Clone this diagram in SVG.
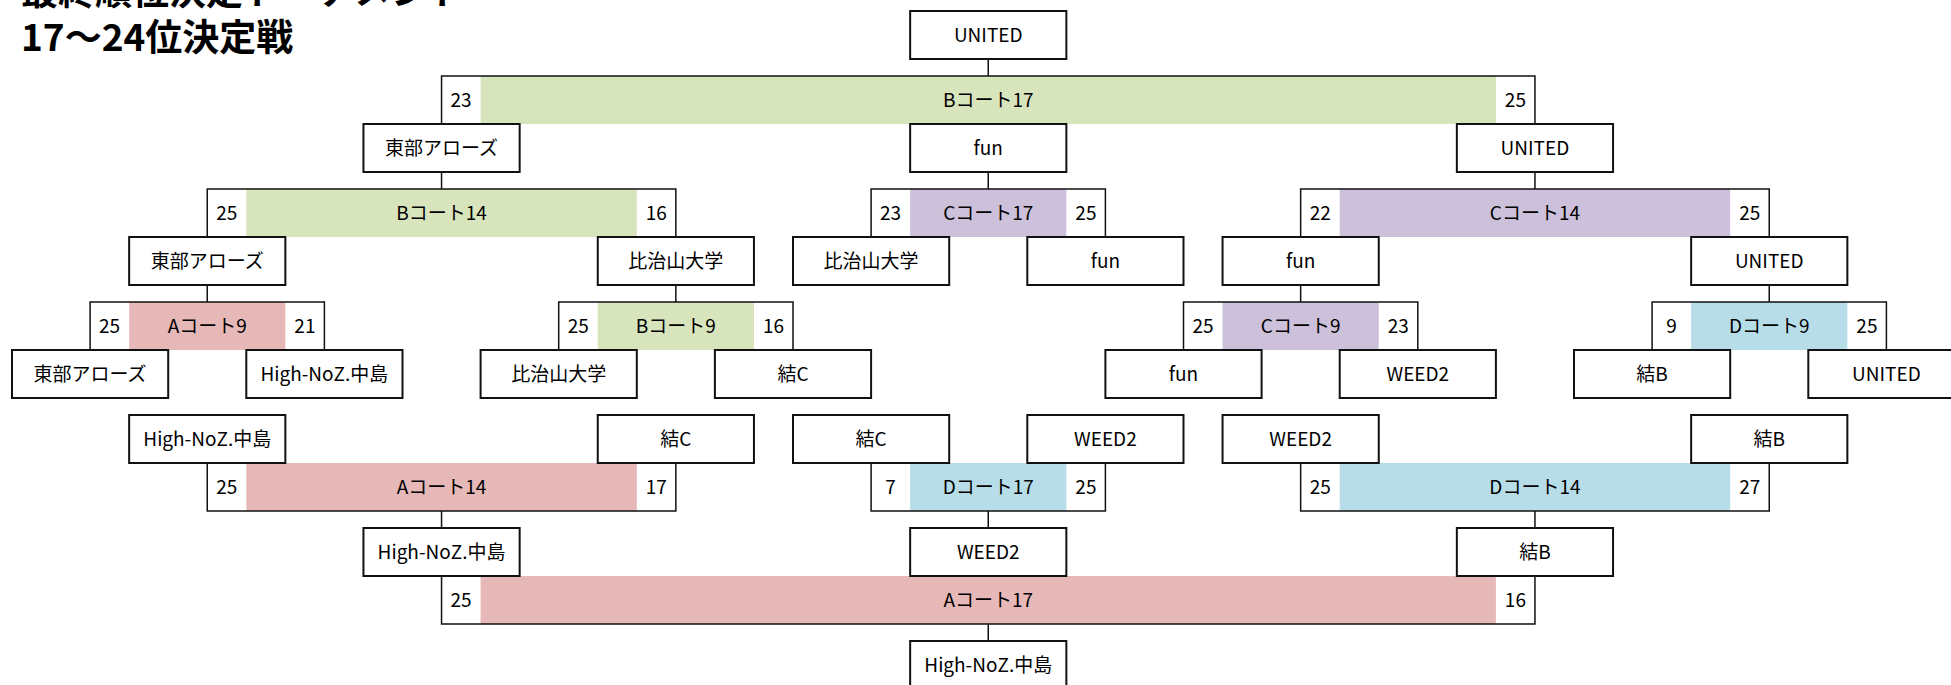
<svg xmlns="http://www.w3.org/2000/svg" width="1951" height="685" viewBox="0 0 1951 685">
<style>
.bg{fill:#ffffff}
.box{fill:#ffffff;stroke:#111111;stroke-width:2}
.t{font-family:"Noto Sans CJK JP","Liberation Sans",sans-serif;font-size:19px;fill:#000000;text-anchor:middle}
.title{font-family:"Noto Sans CJK JP","Liberation Sans",sans-serif;font-size:37px;font-weight:700;fill:#000000}
.ln{fill:none;stroke:#111111;stroke-width:1.5}
.g{fill:#D8E4BC}.p{fill:#CCC0DA}.r{fill:#E6B8B7}.b{fill:#B7DEE8}
</style>
<rect class="bg" x="0" y="0" width="1951" height="685"/>
<g id="title">
<text class="title" x="21" y="5">最終順位決定トーナメント</text>
<text class="title" x="21" y="51">17～24位決定戦</text>
</g>
<g id="matches">
<g id="m-B17"><rect class="g" x="480.6" y="76" width="1015.3" height="48"/><text class="t" x="461.1" y="107">23</text><text class="t" x="988.25" y="107">Bコート17</text><text class="t" x="1515.4" y="107">25</text></g>
<g id="m-B14"><rect class="g" x="246.3" y="189" width="390.5" height="48"/><text class="t" x="226.8" y="220">25</text><text class="t" x="441.55" y="220">Bコート14</text><text class="t" x="656.3" y="220">16</text></g>
<g id="m-C17"><rect class="p" x="910.15" y="189" width="156.2" height="48"/><text class="t" x="890.6" y="220">23</text><text class="t" x="988.25" y="220">Cコート17</text><text class="t" x="1085.9" y="220">25</text></g>
<g id="m-C14"><rect class="p" x="1339.7" y="189" width="390.5" height="48"/><text class="t" x="1320.2" y="220">22</text><text class="t" x="1534.95" y="220">Cコート14</text><text class="t" x="1749.7" y="220">25</text></g>
<g id="m-A9"><rect class="r" x="129.15" y="302" width="156.2" height="48"/><text class="t" x="109.6" y="333">25</text><text class="t" x="207.25" y="333">Aコート9</text><text class="t" x="304.9" y="333">21</text></g>
<g id="m-B9"><rect class="g" x="597.75" y="302" width="156.2" height="48"/><text class="t" x="578.2" y="333">25</text><text class="t" x="675.85" y="333">Bコート9</text><text class="t" x="773.5" y="333">16</text></g>
<g id="m-C9"><rect class="p" x="1222.55" y="302" width="156.2" height="48"/><text class="t" x="1203" y="333">25</text><text class="t" x="1300.65" y="333">Cコート9</text><text class="t" x="1398.3" y="333">23</text></g>
<g id="m-D9"><rect class="b" x="1691.15" y="302" width="156.2" height="48"/><text class="t" x="1671.6" y="333">9</text><text class="t" x="1769.25" y="333">Dコート9</text><text class="t" x="1866.9" y="333">25</text></g>
<g id="m-A14"><rect class="r" x="246.3" y="463" width="390.5" height="48"/><text class="t" x="226.8" y="494">25</text><text class="t" x="441.55" y="494">Aコート14</text><text class="t" x="656.3" y="494">17</text></g>
<g id="m-D17"><rect class="b" x="910.15" y="463" width="156.2" height="48"/><text class="t" x="890.6" y="494">7</text><text class="t" x="988.25" y="494">Dコート17</text><text class="t" x="1085.9" y="494">25</text></g>
<g id="m-D14"><rect class="b" x="1339.7" y="463" width="390.5" height="48"/><text class="t" x="1320.2" y="494">25</text><text class="t" x="1534.95" y="494">Dコート14</text><text class="t" x="1749.7" y="494">27</text></g>
<g id="m-A17"><rect class="r" x="480.6" y="576" width="1015.3" height="48"/><text class="t" x="461.1" y="607">25</text><text class="t" x="988.25" y="607">Aコート17</text><text class="t" x="1515.4" y="607">16</text></g>
</g>
<g id="connectors">
<path class="ln" d="M441.55 124V76H1534.95V124M988.25 76V59"/>
<path class="ln" d="M207.25 237V189H675.85V237M441.55 189V172"/>
<path class="ln" d="M871.1 237V189H1105.4V237M988.25 189V172"/>
<path class="ln" d="M1300.65 237V189H1769.25V237M1534.95 189V172"/>
<path class="ln" d="M90.1 350V302H324.4V350M207.25 302V285"/>
<path class="ln" d="M558.7 350V302H793V350M675.85 302V285"/>
<path class="ln" d="M1183.5 350V302H1417.8V350M1300.65 302V285"/>
<path class="ln" d="M1652.1 350V302H1886.4V350M1769.25 302V285"/>
<path class="ln" d="M207.25 463V511H675.85V463M441.55 511V528"/>
<path class="ln" d="M871.1 463V511H1105.4V463M988.25 511V528"/>
<path class="ln" d="M1300.65 463V511H1769.25V463M1534.95 511V528"/>
<path class="ln" d="M441.55 576V624H1534.95V576M988.25 624V641"/>
</g>
<g id="n-top"><rect class="box" x="910.15" y="11" width="156.2" height="48"/><text class="t" x="988.25" y="42">UNITED</text></g>
<g id="n-l2-1"><rect class="box" x="363.45" y="124" width="156.2" height="48"/><text class="t" x="441.55" y="155">東部アローズ</text></g>
<g id="n-l2-2"><rect class="box" x="910.15" y="124" width="156.2" height="48"/><text class="t" x="988.25" y="155">fun</text></g>
<g id="n-l2-3"><rect class="box" x="1456.85" y="124" width="156.2" height="48"/><text class="t" x="1534.95" y="155">UNITED</text></g>
<g id="n-l3-1"><rect class="box" x="129.15" y="237" width="156.2" height="48"/><text class="t" x="207.25" y="268">東部アローズ</text></g>
<g id="n-l3-2"><rect class="box" x="597.75" y="237" width="156.2" height="48"/><text class="t" x="675.85" y="268">比治山大学</text></g>
<g id="n-l3-3"><rect class="box" x="793" y="237" width="156.2" height="48"/><text class="t" x="871.1" y="268">比治山大学</text></g>
<g id="n-l3-4"><rect class="box" x="1027.3" y="237" width="156.2" height="48"/><text class="t" x="1105.4" y="268">fun</text></g>
<g id="n-l3-5"><rect class="box" x="1222.55" y="237" width="156.2" height="48"/><text class="t" x="1300.65" y="268">fun</text></g>
<g id="n-l3-6"><rect class="box" x="1691.15" y="237" width="156.2" height="48"/><text class="t" x="1769.25" y="268">UNITED</text></g>
<g id="n-leaf-1"><rect class="box" x="12" y="350" width="156.2" height="48"/><text class="t" x="90.1" y="381">東部アローズ</text></g>
<g id="n-leaf-2"><rect class="box" x="246.3" y="350" width="156.2" height="48"/><text class="t" x="324.4" y="381">High-NoZ.中島</text></g>
<g id="n-leaf-3"><rect class="box" x="480.6" y="350" width="156.2" height="48"/><text class="t" x="558.7" y="381">比治山大学</text></g>
<g id="n-leaf-4"><rect class="box" x="714.9" y="350" width="156.2" height="48"/><text class="t" x="793" y="381">結C</text></g>
<g id="n-leaf-5"><rect class="box" x="1105.4" y="350" width="156.2" height="48"/><text class="t" x="1183.5" y="381">fun</text></g>
<g id="n-leaf-6"><rect class="box" x="1339.7" y="350" width="156.2" height="48"/><text class="t" x="1417.8" y="381">WEED2</text></g>
<g id="n-leaf-7"><rect class="box" x="1574" y="350" width="156.2" height="48"/><text class="t" x="1652.1" y="381">結B</text></g>
<g id="n-leaf-8"><rect class="box" x="1808.3" y="350" width="156.2" height="48"/><text class="t" x="1886.4" y="381">UNITED</text></g>
<g id="n-a-1"><rect class="box" x="129.15" y="415" width="156.2" height="48"/><text class="t" x="207.25" y="446">High-NoZ.中島</text></g>
<g id="n-a-2"><rect class="box" x="597.75" y="415" width="156.2" height="48"/><text class="t" x="675.85" y="446">結C</text></g>
<g id="n-a-3"><rect class="box" x="793" y="415" width="156.2" height="48"/><text class="t" x="871.1" y="446">結C</text></g>
<g id="n-a-4"><rect class="box" x="1027.3" y="415" width="156.2" height="48"/><text class="t" x="1105.4" y="446">WEED2</text></g>
<g id="n-a-5"><rect class="box" x="1222.55" y="415" width="156.2" height="48"/><text class="t" x="1300.65" y="446">WEED2</text></g>
<g id="n-a-6"><rect class="box" x="1691.15" y="415" width="156.2" height="48"/><text class="t" x="1769.25" y="446">結B</text></g>
<g id="n-b-1"><rect class="box" x="363.45" y="528" width="156.2" height="48"/><text class="t" x="441.55" y="559">High-NoZ.中島</text></g>
<g id="n-b-2"><rect class="box" x="910.15" y="528" width="156.2" height="48"/><text class="t" x="988.25" y="559">WEED2</text></g>
<g id="n-b-3"><rect class="box" x="1456.85" y="528" width="156.2" height="48"/><text class="t" x="1534.95" y="559">結B</text></g>
<g id="n-final"><rect class="box" x="910.15" y="641" width="156.2" height="48"/><text class="t" x="988.25" y="672">High-NoZ.中島</text></g>
</svg>
